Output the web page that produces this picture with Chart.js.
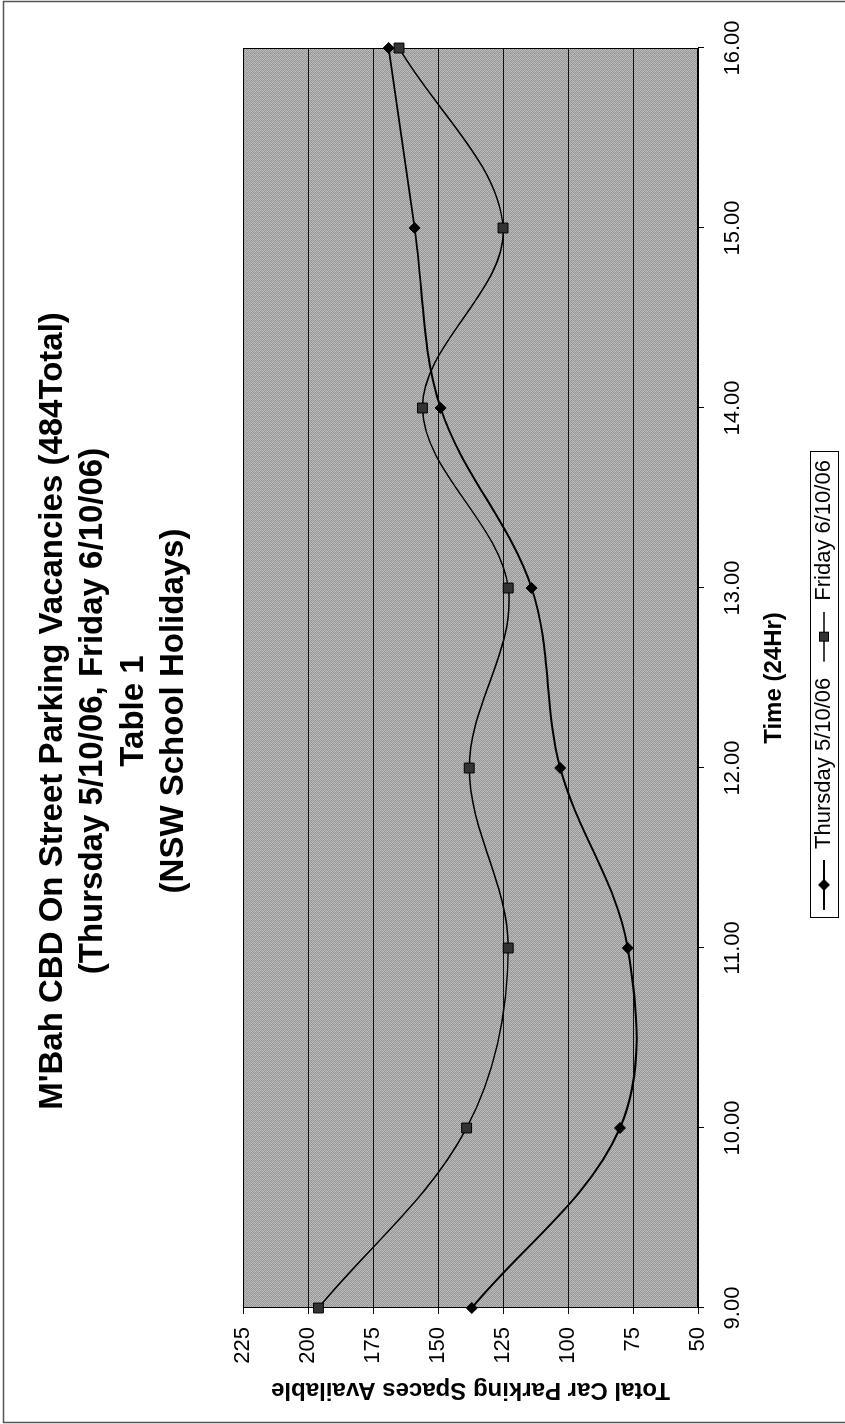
<!DOCTYPE html>
<html>
<head>
<meta charset="utf-8">
<title>M'Bah CBD On Street Parking Vacancies</title>
<script src="https://cdn.jsdelivr.net/npm/chart.js@4.4.1/dist/chart.umd.min.js"></script>
<style>
    html, body { margin: 0; padding: 0; background: #fff; width: 845px; height: 1424px; overflow: hidden; }
    /* chart is laid out landscape, then turned a quarter turn to stand on the page */
    #wrap {
        position: absolute; left: 0; top: 0;
        width: 1424px; height: 845px;
        transform-origin: 0 0;
        transform: translate(0, 1424px) rotate(-90deg);
    }
</style>
</head>
<body>
<div id="wrap"><canvas id="parkingChart" width="1424" height="845"></canvas></div>
<script>
const timeLabels = ['9.00', '10.00', '11.00', '12.00', '13.00', '14.00', '15.00', '16.00'];
const thursdayVacancies = [137, 80, 77, 103, 114, 149, 159, 169];
const fridayVacancies = [196, 139, 123, 138, 123, 156, 125, 165];
const spaceTicks = [50, 75, 100, 125, 150, 175, 200, 225];

const seriesNames = ['Thursday 5/10/06', 'Friday 6/10/06'];
const titleLines = [
    "M'Bah CBD On Street Parking Vacancies (484Total)",
    '(Thursday 5/10/06, Friday 6/10/06)',
    'Table 1',
    '(NSW School Holidays)'
];

const FONT = "'Liberation Sans', Arial, sans-serif";
// the title and legend sit a little off the plot centre on the page
const TITLE_SHIFT = 25;
const LEGEND_SHIFT = 46;

// stippled grey like the printed plot area
function plotPattern(ctx) {
    const c = document.createElement('canvas');
    c.width = 4; c.height = 4;
    const g = c.getContext('2d');
    const shades = [
        '#929292', '#c0c0c0', '#9c9c9c', '#b6b6b6',
        '#bbbbbb', '#989898', '#c3c3c3', '#959595',
        '#9e9e9e', '#b8b8b8', '#8f8f8f', '#bdbdbd',
        '#c1c1c1', '#9a9a9a', '#b4b4b4', '#939393'
    ];
    shades.forEach((s, i) => { g.fillStyle = s; g.fillRect(i % 4, Math.floor(i / 4), 1, 1); });
    return ctx.createPattern(c, 'repeat');
}

// line-through-marker swatch, with a little blank lead-in so items breathe
function legendMarker(kind) {
    const c = document.createElement('canvas');
    c.width = 60; c.height = 16;
    const g = c.getContext('2d');
    g.strokeStyle = '#000';
    g.lineWidth = kind === 'diamond' ? 2 : 1.5;
    g.beginPath(); g.moveTo(10, 8); g.lineTo(60, 8); g.stroke();
    if (kind === 'diamond') {
        g.fillStyle = '#000';
        g.beginPath();
        g.moveTo(35, 2); g.lineTo(41, 8); g.lineTo(35, 14); g.lineTo(29, 8);
        g.closePath(); g.fill();
    } else {
        g.fillStyle = '#333';
        g.fillRect(30.5, 3.5, 9, 9);
        g.lineWidth = 1;
        g.strokeRect(30.5, 3.5, 9, 9);
    }
    return c;
}

const plotDecor = {
    id: 'plotDecor',
    afterLayout(chart) {
        if (chart.titleBlock) {
            chart.titleBlock.left += TITLE_SHIFT;
            chart.titleBlock.right += TITLE_SHIFT;
        }
        if (chart.legend) {
            chart.legend.left += LEGEND_SHIFT;
            chart.legend.right += LEGEND_SHIFT;
        }
    },
    beforeDraw(chart) {
        const { ctx, chartArea: a } = chart;
        ctx.save();
        ctx.fillStyle = '#fff';
        ctx.fillRect(0, 0, chart.width, chart.height);
        ctx.fillStyle = plotPattern(ctx);
        ctx.fillRect(a.left, a.top, a.right - a.left, a.bottom - a.top);
        ctx.restore();
    },
    beforeDatasetsDraw(chart) {
        const { ctx, chartArea: a } = chart;
        ctx.save();
        ctx.strokeStyle = '#000';
        ctx.lineWidth = 1;
        ctx.strokeRect(a.left + 0.5, a.top + 0.5, a.right - a.left - 1, a.bottom - a.top - 1);
        ctx.restore();
    },
    afterDraw(chart) {
        const ctx = chart.ctx;
        const boxes = chart.legend ? chart.legend.legendHitBoxes : [];
        ctx.save();
        if (boxes.length) {
            const left = Math.min(...boxes.map(b => b.left)) + 2;
            const right = Math.max(...boxes.map(b => b.left + b.width)) + 8;
            const top = Math.min(...boxes.map(b => b.top)) - 3;
            const bottom = Math.max(...boxes.map(b => b.top + b.height)) + 3;
            ctx.strokeStyle = '#000';
            ctx.lineWidth = 1;
            ctx.strokeRect(Math.round(left) + 0.5, Math.round(top) + 0.5, Math.round(right - left), Math.round(bottom - top));
        }
        // page frame
        ctx.strokeStyle = '#555';
        ctx.lineWidth = 1.5;
        ctx.strokeRect(1.5, 3.5, chart.width - 3, chart.height + 20);
        ctx.restore();
    }
};

new Chart(document.getElementById('parkingChart'), {
    type: 'line',
    data: {
        labels: timeLabels,
        datasets: [{
            label: seriesNames[0],
            data: thursdayVacancies,
            borderColor: '#000',
            borderWidth: 2,
            tension: 0.35,
            pointStyle: 'rectRot',
            pointRadius: 5.5,
            pointBackgroundColor: '#000',
            pointBorderColor: '#000',
            pointBorderWidth: 1
        }, {
            label: seriesNames[1],
            data: fridayVacancies,
            borderColor: '#000',
            borderWidth: 1.5,
            tension: 0.35,
            pointStyle: 'rect',
            pointRadius: 7,
            pointBackgroundColor: '#333',
            pointBorderColor: '#000',
            pointBorderWidth: 1
        }]
    },
    options: {
        responsive: false,
        animation: false,
        devicePixelRatio: 1,
        layout: { padding: { top: 0, left: 0, right: 48, bottom: 0 } },
        plugins: {
            title: {
                display: true,
                text: titleLines,
                color: '#000',
                font: { family: FONT, size: 33, weight: 'bold', lineHeight: 1.22 },
                padding: { top: 33, bottom: 49 }
            },
            legend: {
                position: 'bottom',
                labels: {
                    color: '#000',
                    font: { family: FONT, size: 22 },
                    usePointStyle: true,
                    pointStyleWidth: 60,
                    padding: 6,
                    generateLabels(chart) {
                        return chart.data.datasets.map((ds, i) => ({
                            text: ds.label,
                            pointStyle: legendMarker(i === 0 ? 'diamond' : 'square'),
                            fillStyle: '#000',
                            strokeStyle: '#000',
                            lineWidth: 0,
                            hidden: false,
                            datasetIndex: i
                        }));
                    }
                }
            },
            tooltip: { enabled: false }
        },
        scales: {
            x: {
                type: 'category',
                offset: false,
                afterFit(scale) { scale.height = 109; },
                grid: { drawOnChartArea: false, drawTicks: true, tickLength: 6, color: '#000' },
                border: { display: true, color: '#000', width: 1 },
                ticks: {
                    color: '#000', maxRotation: 0, autoSkip: false, padding: 16,
                    font: { family: FONT, size: 22 }
                },
                title: {
                    display: true,
                    text: 'Time (24Hr)',
                    color: '#000',
                    font: { family: FONT, size: 24, weight: 'bold' },
                    padding: { top: 4, bottom: 18 }
                }
            },
            y: {
                min: spaceTicks[0],
                max: spaceTicks[spaceTicks.length - 1],
                afterBuildTicks(scale) { scale.ticks = spaceTicks.map(v => ({ value: v })); },
                afterFit(scale) { scale.width = 116; },
                grid: { color: '#111', lineWidth: 1, drawTicks: true, tickLength: 6 },
                border: { display: true, color: '#000', width: 1 },
                ticks: {
                    color: '#000', padding: 13,
                    font: { family: FONT, size: 22 }
                },
                title: {
                    display: true,
                    text: 'Total Car Parking Spaces Available',
                    color: '#000',
                    font: { family: FONT, size: 24, weight: 'bold' },
                    padding: { top: 20, bottom: 0 }
                }
            }
        }
    },
    plugins: [plotDecor]
});
</script>
</body>
</html>
